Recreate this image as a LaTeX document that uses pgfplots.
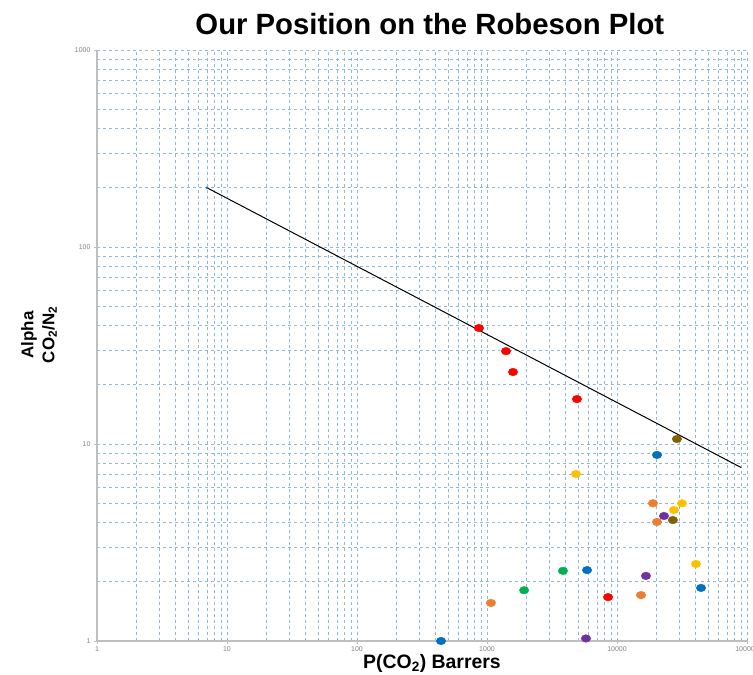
\documentclass[border=0pt]{standalone}
\usepackage{pgfplots}
\pgfplotsset{compat=1.18}
\usepackage{fontspec}
\setmainfont{Liberation Sans}
\definecolor{gridblue}{HTML}{8FB8DA}
\definecolor{axgray}{HTML}{BFBFBF}
\definecolor{cblue}{HTML}{0070C0}
\definecolor{corange}{HTML}{ED7D31}
\definecolor{cyellow}{HTML}{FFC000}
\definecolor{cgreen}{HTML}{00B050}
\definecolor{cred}{HTML}{FF0000}
\definecolor{cpurple}{HTML}{7030A0}
\definecolor{colive}{HTML}{806000}
\pgfplotsset{dot/.style={only marks, mark=*, mark size=3.8bp, color=#1, mark options={xscale=1.25, fill=#1, draw=#1}}}
\begin{document}
\begin{tikzpicture}
\begin{axis}[
  xmode=log, ymode=log,
  scale only axis,
  width=650bp, height=591bp,
  xmin=1, xmax=100000, ymin=1, ymax=1000,
  axis lines=left,
  axis line style={axgray, line width=1.5bp, -},
  xtick={1,10,100,1000,10000,100000},
  xticklabels={1,10,100,1000,10000,100000},
  ytick={1,10,100,1000},
  yticklabels={1,10,100,1000},
  minor xtick={2,3,4,5,6,7,8,9,20,30,40,50,60,70,80,90,200,300,400,500,600,700,800,900,2000,3000,4000,5000,6000,7000,8000,9000,20000,30000,40000,50000,60000,70000,80000,90000},
  minor ytick={2,3,4,5,6,7,8,9,20,30,40,50,60,70,80,90,200,300,400,500,600,700,800,900},
  grid=both,
  major grid style={gridblue, dashed, line width=0.7bp},
  minor grid style={gridblue, dashed, line width=0.7bp},
  tick align=outside,
  major tick length=3bp, minor tick length=0pt,
  tick style={axgray},
  ticklabel style={font=\fontsize{7}{8}\selectfont, text=gray},
  xticklabel style={yshift=1bp},
  title={Our Position on the Robeson Plot},
  title style={font=\bfseries\fontsize{29.4}{33}\selectfont, at={(0.512,1)}, anchor=south, yshift=6bp},
  xlabel={P(CO\textsubscript{2}) Barrers},
  xlabel style={font=\bfseries\fontsize{19.5}{22}\selectfont, yshift=4bp, xshift=10bp},
  ylabel={Alpha\\CO\textsubscript{2}/N\textsubscript{2}},
  ylabel style={font=\bfseries\fontsize{17}{21}\selectfont, align=center, at={(axis description cs:0,0.518)}, anchor=center, yshift=58bp},
  clip=false,
]
\addplot[black, line width=1bp, mark=none] coordinates {(7,200) (90000,7.6)};
\addplot[only marks, mark=*, mark size=0.9bp, cblue] coordinates {(7,200)};
\addplot[dot=cred] coordinates {(867,38.8) (1400,29.6) (1585,23.2) (4920,16.9) (8530,1.67)};
\addplot[dot=colive] coordinates {(28900,10.6) (26900,4.11)};
\addplot[dot=cblue] coordinates {(20300,8.8) (5880,2.29) (44300,1.86) (443,1.0)};
\addplot[dot=cyellow] coordinates {(4840,7.04) (31600,5.0) (27400,4.62) (40500,2.46)};
\addplot[dot=corange] coordinates {(18900,5.0) (20300,4.02) (15300,1.71) (1072,1.56)};
\addplot[dot=cpurple] coordinates {(23000,4.31) (16700,2.14) (5770,1.03)};
\addplot[dot=cgreen] coordinates {(3840,2.27) (1930,1.81)};
\end{axis}
\pgfresetboundingbox
\path ([shift={(-97bp,-34bp)}]current axis.south west) rectangle ([shift={(6bp,50bp)}]current axis.north east);
\end{tikzpicture}
\end{document}
